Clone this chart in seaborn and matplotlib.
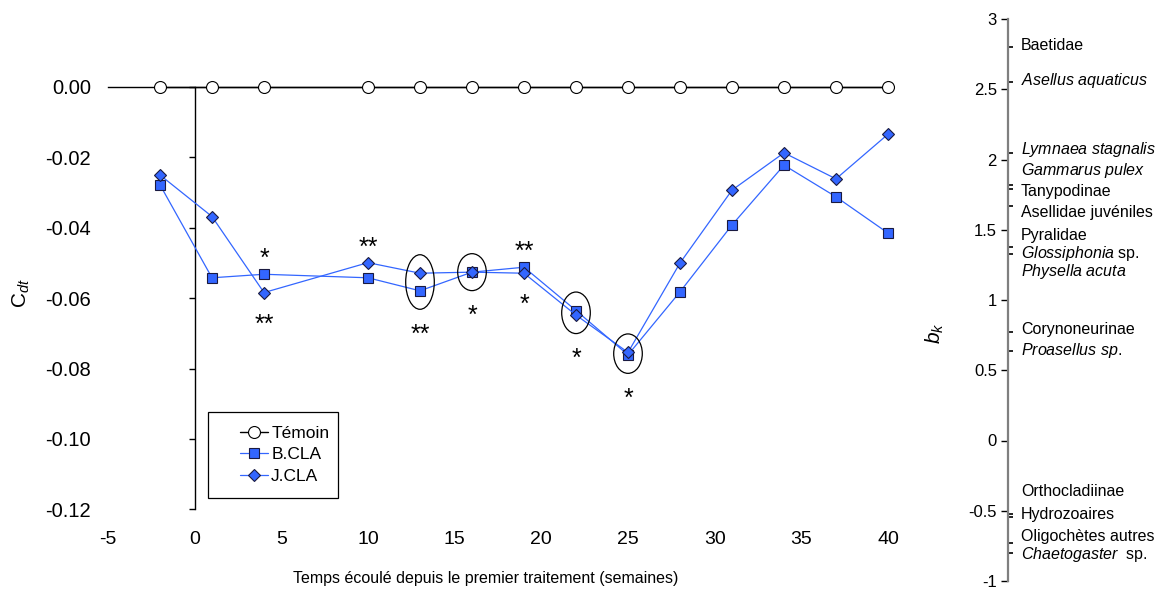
import numpy as np
import pandas as pd
import matplotlib
matplotlib.use("Agg")
import matplotlib.pyplot as plt
import seaborn as sns
from matplotlib.patches import Ellipse, Rectangle
from matplotlib.transforms import blended_transform_factory

# ---------------- data ----------------
weeks = [-2, 1, 4, 10, 13, 16, 19, 22, 25, 28, 31, 34, 37, 40]
temoin = [0.0] * 14
b_cla = [-0.0278, -0.0542, -0.0532, -0.0542, -0.0579, -0.0526, -0.0512,
         -0.0635, -0.0761, -0.0582, -0.0392, -0.0222, -0.0312, -0.0415]
j_cla = [-0.0250, -0.0368, -0.0584, -0.0499, -0.0529, -0.0526, -0.0529,
         -0.0648, -0.0754, -0.0500, -0.0293, -0.0187, -0.0261, -0.0134]

x_ticks = [-5, 0, 5, 10, 15, 20, 25, 30, 35, 40]
y_ticks = [0.00, -0.02, -0.04, -0.06, -0.08, -0.10, -0.12]
y_ticklabels = ["0.00", "-0.02", "-0.04", "-0.06", "-0.08", "-0.10", "-0.12"]

# significance marks
sig_above_weeks = [4, 10, 19]
sig_above_text = ["*", "**", "**"]
sig_below_weeks = [4, 13, 16, 19, 22, 25]
sig_below_text = ["**", "**", "*", "*", "*", "*"]
circled_weeks = [13, 16, 22, 25]

# species weights (right axis)
bk_ticks = [3, 2.5, 2, 1.5, 1, 0.5, 0, -0.5, -1]
bk_ticklabels = ["3", "2.5", "2", "1.5", "1", "0.5", "0", "-0.5", "-1"]
species = ["Baetidae", r"$\mathit{Asellus\ aquaticus}$", r"$\mathit{Lymnaea\ stagnalis}$",
           r"$\mathit{Gammarus\ pulex}$", "Tanypodinae", "Asellidae juvéniles",
           "Pyralidae", r"$\mathit{Glossiphonia}$ sp.", r"$\mathit{Physella\ acuta}$",
           "Corynoneurinae", r"$\mathit{Proasellus\ sp.}$", "Orthocladiinae",
           "Hydrozoaires", "Oligochètes autres", r"$\mathit{Chaetogaster}$  sp."]
species_bk = [2.80, 2.555, 2.045, 1.815, 1.79, 1.67, 1.50, 1.375, 1.325,
              0.775, 0.637, -0.525, -0.545, -0.727, -0.798]
# label positions (layout, spread to avoid overlap)
species_label_pos = [2.81, 2.56, 2.07, 1.92, 1.77, 1.62, 1.46, 1.33, 1.20,
                     0.79, 0.64, -0.36, -0.53, -0.68, -0.81]

# ---------------- style ----------------
sns.set_theme(style="white")
plt.rcParams["font.family"] = ["Liberation Sans", "DejaVu Sans"]
plt.rcParams["mathtext.fontset"] = "custom"
plt.rcParams["mathtext.rm"] = "Liberation Sans"
plt.rcParams["mathtext.it"] = "Liberation Sans:italic"
plt.rcParams["mathtext.bf"] = "Liberation Sans:bold"
for k in ["text.color", "axes.labelcolor", "xtick.color", "ytick.color",
          "xtick.labelcolor", "ytick.labelcolor"]:
    plt.rcParams[k] = "black"

W, H = 1163, 592
fig = plt.figure(figsize=(W / 100, H / 100), dpi=100)

def fx(px):
    return px / W

def fy(py):
    return 1 - py / H

x0_px, x1_px = 108, 888
ytop_px, ybot_px = 87, 509.4
ax = fig.add_axes([fx(x0_px), fy(ybot_px), fx(x1_px - x0_px), (ybot_px - ytop_px) / H])

blue = "#3366FF"
df = pd.DataFrame({"week": weeks, "Témoin": temoin, "B.CLA": b_cla, "J.CLA": j_cla})

sns.lineplot(data=df, x="week", y="Témoin", ax=ax, color="black", lw=1.0,
             marker="o", markersize=8.6, markerfacecolor="white",
             markeredgecolor="black", markeredgewidth=0.8, clip_on=False,
             label="Témoin", zorder=3)
sns.lineplot(data=df, x="week", y="B.CLA", ax=ax, color=blue, lw=0.9,
             marker="s", markersize=7.6, markerfacecolor=blue,
             markeredgecolor="#1a1a40", markeredgewidth=0.8, clip_on=False,
             label="B.CLA", zorder=4)
sns.lineplot(data=df, x="week", y="J.CLA", ax=ax, color=blue, lw=0.9,
             marker="D", markersize=6.2, markerfacecolor=blue,
             markeredgecolor="#1a1a40", markeredgewidth=0.8, clip_on=False,
             label="J.CLA", zorder=5)

ax.set_xlim(-5, 40)
ax.set_ylim(-0.12, 0.0)
ax.set_xlabel("")
ax.set_ylabel("")

for s in ["top", "right"]:
    ax.spines[s].set_visible(False)
ax.spines["left"].set_position(("data", 0))
ax.spines["bottom"].set_position(("data", 0))
for s in ["left", "bottom"]:
    ax.spines[s].set_color("black")
    ax.spines[s].set_linewidth(1.0)

ax.set_yticks(y_ticks)
ax.set_yticklabels(y_ticklabels)
ax.tick_params(axis="y", which="major", direction="out", length=4, width=1,
               color="black", pad=70.5, labelsize=14.5, left=True)
ax.set_xticks(x_ticks)
ax.set_xticklabels([str(v) for v in x_ticks])
ax.set_xticks([-5], minor=True)
ax.tick_params(axis="x", which="major", length=0, pad=320, labelsize=14)
ax.tick_params(axis="x", which="minor", direction="out", length=5, width=1,
               color="black", bottom=True)

# ellipses around circled weeks
for w in circled_weeks:
    i = weeks.index(w)
    cy = (b_cla[i] + j_cla[i]) / 2
    h = abs(b_cla[i] - j_cla[i]) + 0.0105
    ax.add_patch(Ellipse((w, cy), width=1.65, height=h, fill=False,
                         edgecolor="black", lw=0.9, zorder=6))

# significance asterisks
star_fs = 18
base_shift = 14.0 * 0.72  # asterisk centre sits above the baseline
for w, t in zip(sig_above_weeks, sig_above_text):
    i = weeks.index(w)
    top = max(b_cla[i], j_cla[i])
    ax.annotate(t, xy=(w, top), xytext=(0, 22 * 0.72 - base_shift), textcoords="offset points",
                ha="center", va="baseline", fontsize=star_fs)
for w, t in zip(sig_below_weeks, sig_below_text):
    i = weeks.index(w)
    bot = min(b_cla[i], j_cla[i])
    off = 37 if w in circled_weeks else 25
    ax.annotate(t, xy=(w, bot), xytext=(0, -off * 0.72 - base_shift), textcoords="offset points",
                ha="center", va="baseline", fontsize=star_fs)

# legend (entries only), with a square frame
if ax.get_legend():
    ax.get_legend().remove()
handles, labels = ax.get_legend_handles_labels()
leg = fig.legend(handles, labels, loc="upper left",
                 bbox_to_anchor=(fx(240), fy(426)), bbox_transform=fig.transFigure,
                 frameon=False, fontsize=12.5, handlelength=1.6, handletextpad=0.2,
                 labelspacing=0.35, borderpad=0, borderaxespad=0)
fig.add_artist(Rectangle((fx(208), fy(498)), fx(338 - 208), (498 - 412) / H,
                         transform=fig.transFigure, fill=False, edgecolor="black",
                         lw=0.9))

# axis titles
fig.text(fx(21), fy(293), r"$\mathrm{C}_{dt}$", rotation=90, ha="center", va="center",
         fontsize=15)
fig.text(fx(486), fy(578), "Temps écoulé depuis le premier traitement (semaines)",
         ha="center", va="center", fontsize=11.5)

# ---------------- right axis: species weights ----------------
ry_top, ry_bot = 19, 581
ax2 = fig.add_axes([fx(1008), fy(ry_bot), fx(150), (ry_bot - ry_top) / H])
ax2.set_ylim(-1, 3)
ax2.set_xlim(0, 1)
for s in ["top", "right", "bottom"]:
    ax2.spines[s].set_visible(False)
ax2.spines["left"].set_color("#7f7f7f")
ax2.spines["left"].set_linewidth(1.6)
ax2.set_xticks([])
ax2.set_yticks(bk_ticks)
ax2.set_yticklabels(bk_ticklabels)
ax2.tick_params(axis="y", which="major", direction="out", length=5, width=1,
                color="black", pad=3, labelsize=12, left=True)
ax2.set_yticks(species_bk, minor=True)
ax2.tick_params(axis="y", which="minor", direction="in", length=3.5, width=1.2,
                color="black", left=True)
ax2.patch.set_visible(False)

tr = blended_transform_factory(fig.transFigure, ax2.transData)
for name, pos in zip(species, species_label_pos):
    ax2.text(fx(1021), pos, name, transform=tr, ha="left", va="center",
             fontsize=11.5, clip_on=False)

fig.text(fx(935), fy(333), r"$b_k$", rotation=90, ha="center", va="center",
         fontsize=15)

fig.savefig("out.png", dpi=100)
